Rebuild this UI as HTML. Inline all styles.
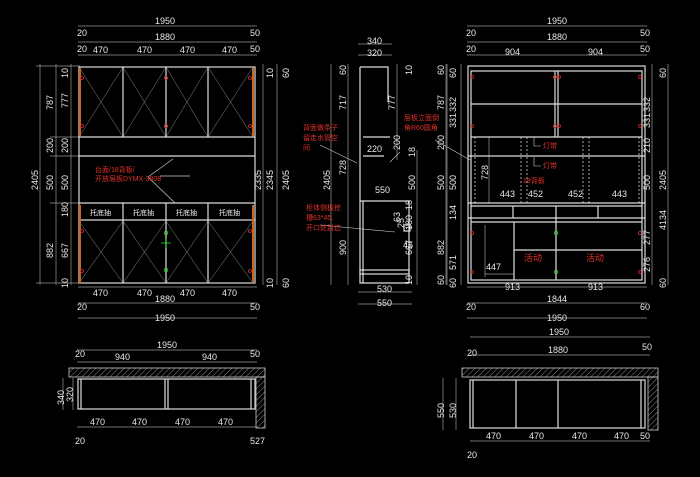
<!DOCTYPE html>
<html><head><meta charset="utf-8"><style>
html,body{margin:0;padding:0;background:#000;width:700px;height:477px;overflow:hidden}
svg{display:block}
text{font-family:"Liberation Sans","Noto Sans CJK SC",sans-serif;fill:#e8e8e8;font-size:9px}
.r{fill:#e0302a;font-size:7px}
.g{fill:#30e030}
</style></head><body>
<svg width="700" height="477" viewBox="0 0 700 477" xmlns="http://www.w3.org/2000/svg">
<defs>
<pattern id="h" width="4" height="4" patternUnits="userSpaceOnUse" patternTransform="rotate(45)">
<line x1="0" y1="0" x2="0" y2="4" stroke="#888" stroke-width="1"/></pattern>
</defs>
<!-- ===== LEFT ELEVATION ===== -->
<g stroke="#999" stroke-width="0.7" fill="none">
<line x1="78" y1="26" x2="257" y2="26"/><line x1="78" y1="42" x2="257" y2="42"/><line x1="78" y1="55" x2="257" y2="55"/>
<line x1="78" y1="287" x2="257" y2="287"/><line x1="78" y1="303" x2="257" y2="303"/><line x1="78" y1="318" x2="257" y2="318"/>
<line x1="40" y1="64" x2="40" y2="285"/><line x1="56" y1="64" x2="56" y2="285"/><line x1="71" y1="64" x2="71" y2="285"/>
<line x1="263" y1="64" x2="263" y2="285"/><line x1="277" y1="64" x2="277" y2="285"/>
<line x1="36" y1="66" x2="80" y2="66"/><line x1="50" y1="137" x2="80" y2="137"/><line x1="50" y1="156" x2="80" y2="156"/><line x1="50" y1="203" x2="80" y2="203"/><line x1="36" y1="283" x2="80" y2="283"/>
</g>
<g stroke="#666" stroke-width="0.6">
<path d="M79 67L123 137M123 67L79 137M123 67L166 137M166 67L123 137M166 67L208 137M208 67L166 137M208 67L253 137M253 67L208 137"/>
<path d="M79 221L123 283M123 221L79 283M123 221L166 283M166 221L123 283M166 221L208 283M208 221L166 283M208 221L253 283M253 221L208 283"/>
</g>
<g stroke="#ddd" stroke-width="1.2" fill="none">
<rect x="79" y="67" width="176" height="216"/>
<line x1="79" y1="137" x2="255" y2="137"/><line x1="79" y1="156" x2="255" y2="156"/><line x1="79" y1="203" x2="255" y2="203"/>
<line x1="79" y1="220" x2="255" y2="220"/>
<path d="M123 67V137M166 67V137M208 67V137M123 203V283M166 203V283M208 203V283"/>
</g>
<g stroke="#c8641e" stroke-width="2"><line x1="80" y1="68" x2="80" y2="136"/><line x1="253" y1="68" x2="253" y2="136"/><line x1="80" y1="205" x2="80" y2="283"/><line x1="253" y1="205" x2="253" y2="283"/></g>
<g fill="none" stroke="#e0302a" stroke-width="0.8"><circle cx="82" cy="78" r="1.5"/><circle cx="82" cy="126" r="1.5"/><circle cx="166" cy="78" r="1.5"/><circle cx="166" cy="126" r="1.5"/><circle cx="250" cy="78" r="1.5"/><circle cx="250" cy="126" r="1.5"/><circle cx="82" cy="231" r="1.5"/><circle cx="82" cy="271" r="1.5"/><circle cx="250" cy="231" r="1.5"/><circle cx="250" cy="271" r="1.5"/></g>
<g fill="none" stroke="#30e030" stroke-width="0.8"><circle cx="166" cy="233" r="1.8"/><circle cx="166" cy="270" r="1.8"/><path d="M161 243h10M166 238v10"/></g>
<g stroke="#ccc" stroke-width="0.7"><path d="M173 159L148 177L175 203M160 176H190"/></g>
<text class="r" x="95" y="172">台面/18背板/</text><text class="r" x="95" y="181">开放层板DYMX-3808</text>
<g font-size="7"><text x="90" y="215" style="font-size:7px">托底抽</text><text x="133" y="215" style="font-size:7px">托底抽</text><text x="176" y="215" style="font-size:7px">托底抽</text><text x="219" y="215" style="font-size:7px">托底抽</text></g>
<text x="155" y="24">1950</text><text x="77" y="36">20</text><text x="155" y="40">1880</text><text x="250" y="36">50</text>
<text x="77" y="52">20</text><text x="93" y="53">470</text><text x="137" y="53">470</text><text x="180" y="53">470</text><text x="222" y="53">470</text><text x="250" y="52">50</text>
<text x="93" y="296">470</text><text x="137" y="296">470</text><text x="180" y="296">470</text><text x="222" y="296">470</text>
<text x="77" y="310">20</text><text x="155" y="302">1880</text><text x="250" y="310">50</text><text x="155" y="321">1950</text>
<g transform="rotate(-90)" style="font-size:9px">
<text x="-190" y="38">2405</text><text x="-110" y="53">787</text><text x="-153" y="53">200</text><text x="-190" y="53">500</text><text x="-258" y="53">882</text>
<text x="-78" y="68">10</text><text x="-108" y="68">777</text><text x="-153" y="68">200</text><text x="-190" y="68">500</text><text x="-217" y="68">180</text><text x="-258" y="68">667</text><text x="-288" y="68">10</text>
<text x="-190" y="261">2335</text><text x="-78" y="273">10</text><text x="-190" y="273">2345</text><text x="-288" y="273">10</text>
<text x="-78" y="289">60</text><text x="-190" y="289">2405</text><text x="-288" y="289">60</text>
</g>
<!-- ===== MIDDLE SECTION ===== -->
<g stroke="#999" stroke-width="0.7" fill="none">
<line x1="358" y1="44" x2="392" y2="44"/><line x1="358" y1="55" x2="392" y2="55"/>
<line x1="358" y1="292" x2="412" y2="292"/><line x1="358" y1="304" x2="412" y2="304"/>
<line x1="331" y1="64" x2="331" y2="285"/><line x1="348" y1="64" x2="348" y2="285"/><line x1="397" y1="64" x2="397" y2="160"/><line x1="417" y1="150" x2="417" y2="285"/>
<line x1="446" y1="64" x2="446" y2="285"/>
</g>
<g stroke="#ddd" stroke-width="1.2" fill="none">
<path d="M360 67H388V102M360 67V283H409V201H360M363 137H390M363 156H384M363 201V283"/>
<rect x="360" y="270" width="49" height="4"/>
<path d="M404 225h6v6h-6z"/>
</g>
<g stroke="#ccc" stroke-width="0.6"><path d="M320 145L357 163M400 152L390 162M320 225L395 232M435 140L470 160"/></g>
<text class="r" x="303" y="130">背面做条子</text><text class="r" x="303" y="140">留走水管空</text><text class="r" x="303" y="150">间</text>
<text class="r" x="404" y="120">层板立面倒</text><text class="r" x="404" y="130">角R60圆角</text>
<text class="r" x="306" y="210">柜体侧板挖</text><text class="r" x="306" y="220">槽63*45,</text><text class="r" x="306" y="230">开口处封边</text>
<text x="367" y="44">340</text><text x="367" y="56">320</text><text x="367" y="152">220</text><text x="375" y="193">550</text><text x="377" y="292">530</text><text x="377" y="306">550</text>
<text x="403" y="248">45</text>
<g transform="rotate(-90)">
<text x="-75" y="346">60</text><text x="-110" y="346">717</text><text x="-190" y="330">2405</text><text x="-175" y="346">728</text><text x="-255" y="346">900</text>
<text x="-110" y="395">777</text><text x="-150" y="400">200</text><text x="-75" y="412">10</text><text x="-190" y="415">500</text><text x="-157" y="415">18</text><text x="-210" y="412">18</text><text x="-230" y="412">180</text><text x="-222" y="400">63</text><text x="-228" y="404">25</text><text x="-255" y="412">667</text><text x="-285" y="412">10</text>
<text x="-110" y="444">787</text><text x="-150" y="444">200</text><text x="-190" y="444">500</text><text x="-255" y="444">882</text><text x="-285" y="444">60</text><text x="-75" y="444">60</text>
</g>
<!-- ===== RIGHT ELEVATION ===== -->
<g stroke="#999" stroke-width="0.7" fill="none">
<line x1="467" y1="26" x2="647" y2="26"/><line x1="467" y1="42" x2="647" y2="42"/><line x1="467" y1="55" x2="647" y2="55"/>
<line x1="467" y1="287" x2="647" y2="287"/><line x1="467" y1="303" x2="647" y2="303"/><line x1="467" y1="318" x2="647" y2="318"/>
<line x1="447" y1="64" x2="447" y2="285"/><line x1="461" y1="64" x2="461" y2="285"/>
<line x1="652" y1="64" x2="652" y2="285"/><line x1="668" y1="64" x2="668" y2="285"/><line x1="489" y1="137" x2="489" y2="203"/><line x1="485" y1="225" x2="485" y2="277"/><line x1="485" y1="274" x2="514" y2="274"/>
</g>
<g stroke="#ddd" stroke-width="1.2" fill="none">
<rect x="468" y="66" width="177" height="217"/>
<rect x="471" y="71" width="171" height="209"/>
<line x1="471" y1="104" x2="642" y2="104"/><line x1="471" y1="137" x2="642" y2="137"/><line x1="468" y1="156" x2="645" y2="156"/>
<line x1="468" y1="203" x2="645" y2="203"/><line x1="471" y1="206" x2="642" y2="206"/><line x1="468" y1="218" x2="645" y2="218"/><line x1="471" y1="222" x2="642" y2="222"/>
<line x1="514" y1="250" x2="642" y2="250"/>
<path d="M555 71V137M558 71V137M513 206V218M556 206V280M598 206V218M514 222V280"/>
</g>
<g stroke="#ccc" stroke-width="0.8" stroke-dasharray="2,2"><path d="M475 137V203M521 137V203M527 137V203M583 137V203M589 137V203M639 137V203"/></g>
<g stroke="#ccc" stroke-width="0.6" fill="none"><path d="M534 137V146H541M534 157V166H541"/></g>
<text class="r" x="543" y="148">灯带</text><text class="r" x="543" y="168">灯带</text><text class="r" x="523" y="183">18背板</text>
<text class="r" x="524" y="261" style="font-size:9px">活动</text><text class="r" x="586" y="261" style="font-size:9px">活动</text>
<g fill="none" stroke="#e0302a" stroke-width="0.8"><circle cx="472" cy="77" r="1.5"/><circle cx="472" cy="126" r="1.5"/><circle cx="555" cy="77" r="1.5"/><circle cx="559" cy="77" r="1.5"/><circle cx="555" cy="126" r="1.5"/><circle cx="559" cy="126" r="1.5"/><circle cx="640" cy="77" r="1.5"/><circle cx="640" cy="126" r="1.5"/><circle cx="472" cy="233" r="1.5"/><circle cx="472" cy="272" r="1.5"/><circle cx="640" cy="233" r="1.5"/><circle cx="640" cy="272" r="1.5"/></g>
<g fill="none" stroke="#30e030" stroke-width="0.8"><circle cx="556" cy="233" r="1.8"/><circle cx="556" cy="272" r="1.8"/></g>
<text x="547" y="24">1950</text><text x="466" y="36">20</text><text x="547" y="40">1880</text><text x="640" y="36">50</text>
<text x="466" y="52">20</text><text x="505" y="55">904</text><text x="588" y="55">904</text><text x="640" y="52">50</text>
<text x="500" y="197">443</text><text x="528" y="197">452</text><text x="568" y="197">452</text><text x="612" y="197">443</text>
<text x="486" y="270">447</text>
<text x="505" y="290">913</text><text x="588" y="290">913</text>
<text x="466" y="310">20</text><text x="547" y="302">1844</text><text x="640" y="310">60</text><text x="547" y="321">1950</text>
<g transform="rotate(-90)">
<text x="-78" y="456">60</text><text x="-112" y="456">332</text><text x="-128" y="456">331</text><text x="-190" y="456">500</text><text x="-220" y="456">134</text><text x="-270" y="456">571</text><text x="-288" y="456">60</text>
<text x="-180" y="488">728</text>
<text x="-112" y="650">332</text><text x="-128" y="650">331</text><text x="-153" y="650">210</text><text x="-190" y="650">500</text><text x="-245" y="650">277</text><text x="-272" y="650">276</text>
<text x="-78" y="666">60</text><text x="-190" y="666">2405</text><text x="-230" y="666">4134</text><text x="-288" y="666">60</text>
</g>
<!-- ===== LEFT PLAN ===== -->
<g stroke="#999" stroke-width="0.7" fill="none">
<line x1="77" y1="350" x2="257" y2="350"/><line x1="77" y1="362" x2="257" y2="362"/><line x1="77" y1="427" x2="257" y2="427"/>
<line x1="63" y1="378" x2="63" y2="410"/><line x1="73" y1="378" x2="73" y2="410"/>
</g>
<rect x="69" y="368" width="196" height="9" fill="url(#h)" stroke="#ccc" stroke-width="0.8"/>
<rect x="256" y="377" width="9" height="51" fill="url(#h)" stroke="#ccc" stroke-width="0.8"/>
<g stroke="#ddd" stroke-width="1.2" fill="none"><rect x="78" y="379" width="177" height="30"/><path d="M81 379V409M165 379V409M168 379V409M251 379V409"/></g>
<text x="157" y="348">1950</text><text x="75" y="357">20</text><text x="115" y="360">940</text><text x="202" y="360">940</text><text x="250" y="357">50</text>
<text x="90" y="425">470</text><text x="132" y="425">470</text><text x="175" y="425">470</text><text x="218" y="425">470</text>
<text x="75" y="444">20</text><text x="250" y="444">527</text>
<g transform="rotate(-90)"><text x="-405" y="64">340</text><text x="-402" y="73">320</text></g>
<!-- ===== RIGHT PLAN ===== -->
<g stroke="#999" stroke-width="0.7" fill="none">
<line x1="470" y1="337" x2="650" y2="337"/><line x1="470" y1="355" x2="650" y2="355"/><line x1="470" y1="441" x2="650" y2="441"/>
<line x1="443" y1="378" x2="443" y2="430"/><line x1="456" y1="378" x2="456" y2="430"/>
</g>
<rect x="462" y="368" width="196" height="9" fill="url(#h)" stroke="#ccc" stroke-width="0.8"/>
<rect x="648" y="377" width="10" height="53" fill="url(#h)" stroke="#ccc" stroke-width="0.8"/>
<g stroke="#ddd" stroke-width="1.2" fill="none"><rect x="470" y="380" width="175" height="48"/><path d="M473 380V428M516 380V428M558 380V428M641 380V428"/></g>
<text x="549" y="335">1950</text><text x="642" y="350">50</text><text x="467" y="356">20</text><text x="548" y="353">1880</text>
<text x="486" y="439">470</text><text x="529" y="439">470</text><text x="572" y="439">470</text><text x="614" y="439">470</text><text x="640" y="439">50</text>
<text x="467" y="458">20</text>
<g transform="rotate(-90)"><text x="-418" y="444">550</text><text x="-418" y="456">530</text></g>
</svg>
</body></html>
